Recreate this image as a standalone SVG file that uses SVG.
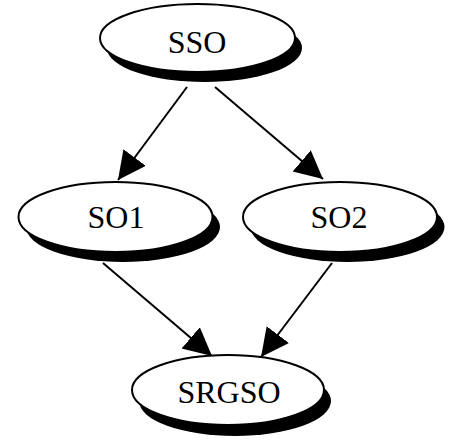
<svg xmlns="http://www.w3.org/2000/svg" width="451" height="444" viewBox="0 0 451 444">
<defs>
<style>
.shadow{fill:#000;stroke:none}
.node{fill:#fff;stroke:#000;stroke-width:2}
.lbl{font-family:"Liberation Serif","Times New Roman",serif;font-size:32px;fill:#000;text-anchor:middle}
.edge{stroke:#000;stroke-width:2;fill:none;marker-end:url(#arr)}
</style>
<marker id="arr" markerUnits="userSpaceOnUse" markerWidth="29" markerHeight="29" refX="28" refY="14" orient="auto" viewBox="0 0 29 29">
<path d="M0,0 L28,14 L0,28 z" fill="#000"/>
</marker>
</defs>
<rect width="451" height="444" fill="#fff"/>
<g id="edges">
<line class="edge" x1="187" y1="87" x2="118" y2="180"/>
<line class="edge" x1="215" y1="87" x2="323" y2="179"/>
<line class="edge" x1="103" y1="263" x2="212" y2="356"/>
<line class="edge" x1="332" y1="263" x2="261" y2="357"/>
</g>
<g id="SSO">
<ellipse class="shadow" cx="204.5" cy="48" rx="97.5" ry="34"/>
<ellipse class="node" cx="197.5" cy="38" rx="97.5" ry="34"/>
<text class="lbl" x="197" y="53">SSO</text>
</g>
<g id="SO1">
<ellipse class="shadow" cx="123" cy="227" rx="97" ry="35"/>
<ellipse class="node" cx="115.5" cy="217" rx="97" ry="35"/>
<text class="lbl" x="116" y="228">SO1</text>
</g>
<g id="SO2">
<ellipse class="shadow" cx="347.5" cy="227" rx="97" ry="35"/>
<ellipse class="node" cx="340" cy="217" rx="97" ry="35"/>
<text class="lbl" x="339" y="228">SO2</text>
</g>
<g id="SRGSO">
<ellipse class="shadow" cx="235" cy="401" rx="96" ry="35"/>
<ellipse class="node" cx="228" cy="390" rx="96" ry="35"/>
<text class="lbl" x="229" y="403">SRGSO</text>
</g>
</svg>
